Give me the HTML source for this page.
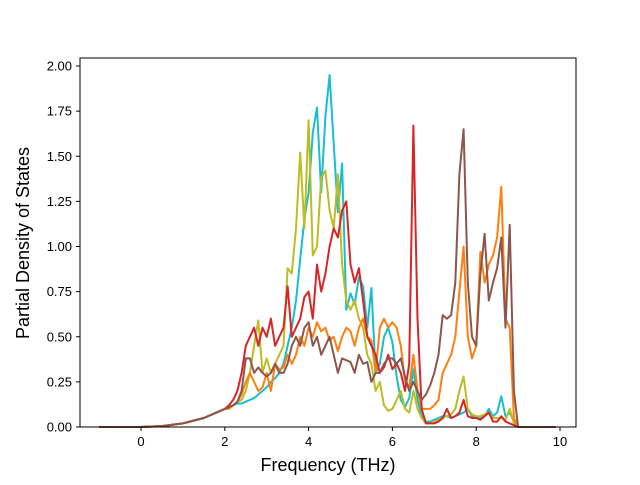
<!DOCTYPE html>
<html><head><meta charset="utf-8"><style>
body{margin:0;background:#fff}
svg{font-family:"Liberation Sans","DejaVu Sans",sans-serif}
</style></head><body>
<svg id="chart" width="640" height="480" viewBox="0 0 640 480" xmlns="http://www.w3.org/2000/svg">
<rect width="640" height="480" fill="#fff"/>
<g id="series"></g>
<rect x="80" y="58" width="496" height="369" fill="none" stroke="#000" stroke-width="1"/>
<g id="xticks"></g>
<g id="yticks"></g>
<text x="328" y="471" text-anchor="middle" font-size="18">Frequency (THz)</text>
<text transform="translate(29,243) rotate(-90)" text-anchor="middle" font-size="18">Partial Density of States</text>
</svg>
<script>
const xTicks = [0, 2, 4, 6, 8, 10];
const yTicks = [0, 0.25, 0.5, 0.75, 1.0, 1.25, 1.5, 1.75, 2.0];
const freqLow = [-1, 0, 0.5, 1, 1.5];
const lowVals = [0, 0, 0.005, 0.02, 0.05];
const freqHigh = [9.2, 9.9];
const cyanVals = [.1,.11,.12,.13,.13,.14,.15,.16,.18,.2,.22,.25,.27,.3,.35,.45,.55,.7,.93,1.15,1.3,1.63,1.77,1.3,1.72,1.95,1.57,1.19,1.46,.65,.74,.68,.83,.78,.55,.77,.3,.35,.5,.55,.47,.28,.15,.11,.16,.32,.15,.06,.03,.03,.04,.05,.06,.06,.05,.06,.07,.08,.1,.06,.05,.05,.06,.1,.06,.08,.17,.06,.08,.03,0];
const oliveVals = [.1,.11,.12,.14,.15,.2,.3,.45,.59,.3,.38,.3,.35,.4,.45,.88,.85,1.1,1.52,1.1,1.7,.95,1.0,1.38,1.42,1.2,1.1,1.4,.9,.7,.65,.7,.6,.55,.4,.35,.2,.25,.12,.09,.1,.15,.2,.1,.08,.2,.1,.05,.02,.02,.03,.04,.05,.06,.07,.1,.2,.28,.1,.07,.06,.06,.07,.08,.05,.05,.05,.04,.1,.02,0];
const orangeVals = [.1,.1,.12,.14,.18,.25,.3,.25,.2,.22,.3,.2,.35,.32,.33,.4,.35,.4,.5,.45,.55,.5,.58,.53,.55,.48,.5,.42,.5,.55,.53,.45,.55,.6,.5,.48,.3,.55,.6,.55,.58,.55,.45,.25,.22,.4,.2,.1,.1,.1,.12,.15,.3,.35,.4,.5,.75,1.0,.5,.38,.45,.97,.8,.9,.95,1.05,1.33,.6,.55,.05,0];
const redVals = [.1,.12,.15,.2,.3,.45,.5,.55,.45,.55,.5,.6,.45,.5,.55,.78,.5,.55,.6,.72,.75,.6,.9,.75,.85,1.0,1.1,1.05,1.2,1.25,.9,.8,.88,.7,.5,.45,.4,.3,.33,.4,.32,.35,.3,.2,.35,1.67,.6,.1,.02,.02,.02,.03,.05,.1,.05,.06,.08,.15,.06,.05,.05,.04,.06,.08,.03,.03,.06,.03,.02,.01,0];
const brownVals = [.1,.11,.12,.14,.2,.38,.38,.3,.33,.3,.28,.3,.35,.3,.3,.35,.45,.5,.45,.55,.58,.45,.5,.4,.45,.5,.4,.3,.38,.37,.36,.3,.4,.35,.36,.25,.3,.3,.35,.38,.38,.35,.38,.28,.2,.25,.2,.15,.18,.23,.3,.4,.62,.6,.62,.8,1.4,1.65,.8,.5,.45,.85,1.07,.7,.8,.88,1.05,.55,1.12,.2,0];
const seriesColors = ["#17becf","#bcbd22","#ff7f0e","#d62728","#8c564b"];
const seriesNames = ["cyan","olive","orange","red","brown"];
const seriesData = [cyanVals, oliveVals, orangeVals, redVals, brownVals];

const NS = "http://www.w3.org/2000/svg";
const X = f => 141 + (f - 0) * (560 - 141) / 10;
const Y = v => 427 - v * (427 - 66) / 2.0;

const sg = document.getElementById('series');
seriesData.forEach((vals, k) => {
  const fs = [], vs = [];
  freqLow.forEach((f, i) => { fs.push(f); vs.push(lowVals[i]); });
  vals.forEach((v, i) => { fs.push(2 + 0.1 * i); vs.push(v); });
  freqHigh.forEach(f => { fs.push(f); vs.push(0); });
  const d = fs.map((f, i) => (i ? 'L' : 'M') + X(f).toFixed(1) + ' ' + Y(vs[i]).toFixed(1)).join(' ');
  const p = document.createElementNS(NS, 'path');
  p.setAttribute('d', d);
  p.setAttribute('fill', 'none');
  p.setAttribute('stroke', seriesColors[k]);
  p.setAttribute('stroke-width', '2');
  p.setAttribute('stroke-linejoin', 'round');
  
  
  sg.appendChild(p);
});

const xg = document.getElementById('xticks');
xTicks.forEach(t => {
  const l = document.createElementNS(NS, 'line');
  l.setAttribute('x1', X(t)); l.setAttribute('x2', X(t));
  l.setAttribute('y1', 427); l.setAttribute('y2', 431);
  l.setAttribute('stroke', '#000');
  
  
  xg.appendChild(l);
  const tx = document.createElementNS(NS, 'text');
  tx.setAttribute('x', X(t)); tx.setAttribute('y', 446);
  tx.setAttribute('text-anchor', 'middle'); tx.setAttribute('font-size', '13');
  tx.textContent = t;
  
  
  xg.appendChild(tx);
});
const yg = document.getElementById('yticks');
yTicks.forEach(t => {
  const l = document.createElementNS(NS, 'line');
  l.setAttribute('x1', 76); l.setAttribute('x2', 80);
  l.setAttribute('y1', Y(t)); l.setAttribute('y2', Y(t));
  l.setAttribute('stroke', '#000');
  
  
  yg.appendChild(l);
  const tx = document.createElementNS(NS, 'text');
  tx.setAttribute('x', 72); tx.setAttribute('y', Y(t) + 4.5);
  tx.setAttribute('text-anchor', 'end'); tx.setAttribute('font-size', '13');
  tx.textContent = t.toFixed(2);
  
  
  yg.appendChild(tx);
});
</script>
</body></html>
